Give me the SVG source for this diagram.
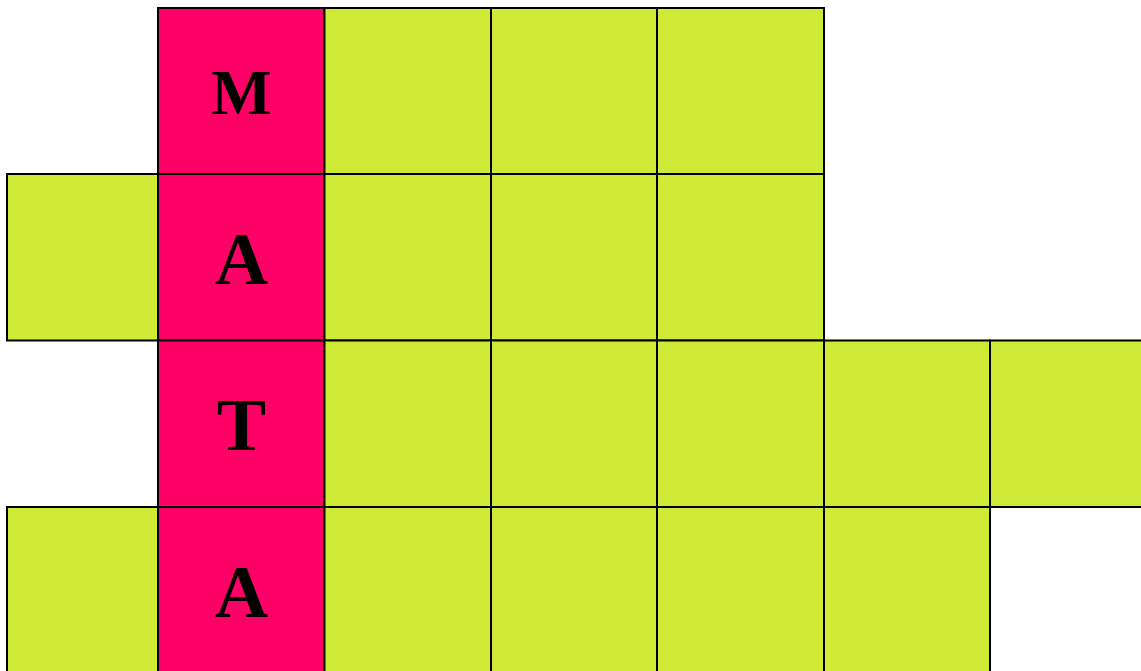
<svg xmlns="http://www.w3.org/2000/svg" width="1141" height="671" viewBox="0 0 1141 671">
<style>
.g{fill:#CFEB37;stroke:#000;stroke-width:2}
.p{fill:#FF0066;stroke:#000;stroke-width:2}
.t{font-family:"Liberation Serif","Times New Roman",serif;font-weight:bold;fill:#000;text-anchor:middle}
</style>
<rect width="1141" height="671" fill="#fff"/>
<g id="row0">
<rect id="c0_1" class="p" x="158" y="8" width="166.5" height="166"/>
<rect id="c0_2" class="g" x="324.5" y="8" width="166.5" height="166"/>
<rect id="c0_3" class="g" x="491" y="8" width="166" height="166"/>
<rect id="c0_4" class="g" x="657" y="8" width="167" height="166"/>
</g>
<g id="row1">
<rect id="c1_0" class="g" x="7" y="174" width="151" height="166.5"/>
<rect id="c1_1" class="p" x="158" y="174" width="166.5" height="166.5"/>
<rect id="c1_2" class="g" x="324.5" y="174" width="166.5" height="166.5"/>
<rect id="c1_3" class="g" x="491" y="174" width="166" height="166.5"/>
<rect id="c1_4" class="g" x="657" y="174" width="167" height="166.5"/>
</g>
<g id="row2">
<rect id="c2_1" class="p" x="158" y="340.5" width="166.5" height="166.5"/>
<rect id="c2_2" class="g" x="324.5" y="340.5" width="166.5" height="166.5"/>
<rect id="c2_3" class="g" x="491" y="340.5" width="166" height="166.5"/>
<rect id="c2_4" class="g" x="657" y="340.5" width="167" height="166.5"/>
<rect id="c2_5" class="g" x="824" y="340.5" width="166" height="166.5"/>
<rect id="c2_6" class="g" x="990" y="340.5" width="170" height="166.5"/>
</g>
<g id="row3">
<rect id="c3_0" class="g" x="7" y="507" width="151" height="180"/>
<rect id="c3_1" class="p" x="158" y="507" width="166.5" height="180"/>
<rect id="c3_2" class="g" x="324.5" y="507" width="166.5" height="180"/>
<rect id="c3_3" class="g" x="491" y="507" width="166" height="180"/>
<rect id="c3_4" class="g" x="657" y="507" width="167" height="180"/>
<rect id="c3_5" class="g" x="824" y="507" width="166" height="180"/>
</g>
<g id="letters">
<text class="t" x="241.5" y="113.5" font-size="64">M</text>
<text class="t" x="241.5" y="284" font-size="74">A</text>
<text class="t" x="241.5" y="450" font-size="74">T</text>
<text class="t" x="241.5" y="617" font-size="74">A</text>
</g>
</svg>
